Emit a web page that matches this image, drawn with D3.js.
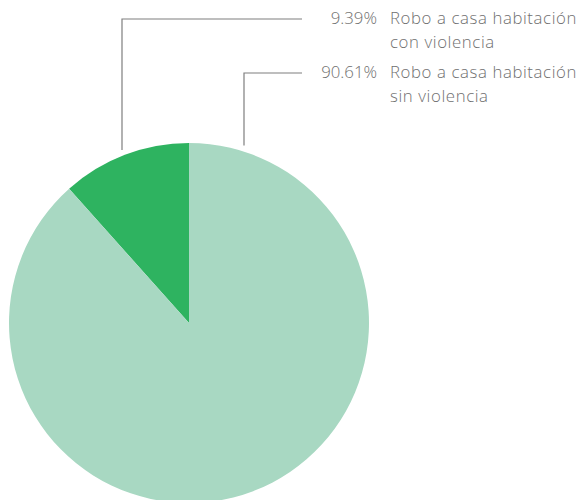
<!DOCTYPE html>
<html>
<head>
	<script src="https://d3js.org/d3.v7.min.js"></script>
	<style>
		body { margin: 0; background: #fff; }
		.lbl {
			font-family: "Open Sans", sans-serif;
			font-weight: 300;
			font-size: 16.8px;
			fill: #707070;
		}
		.lbl.name { letter-spacing: 0.6px; }
		.leader {
			fill: none;
			stroke: #7f7f7f;
			stroke-width: 1.2px;
		}
	</style>
</head>
<body>
<svg class="pie" width="585" height="500"></svg>
<script>
// slice shares as drawn in the picture (the dark one is a bit wider than its label says)
var categories = ["Robo a casa habitación con violencia", "Robo a casa habitación sin violencia"];
var sliceValues = [11.6, 88.4];
var pctLabels = ["9.39%", "90.61%"];
var nameLines = [["Robo a casa habitación", "con violencia"], ["Robo a casa habitación", "sin violencia"]];
var colors = ["#2eb360", "#a8d8c2"];

var svg = d3.select(".pie");
var cx = 189, cy = 323, radius = 180;

// dark slice sits just left of 12 o'clock, the rest runs clockwise from the top
var total = d3.sum(sliceValues);
var a0 = sliceValues[0] / total * 2 * Math.PI;
var pie = d3.pie()
	.sort(null)
	.startAngle(-a0)
	.endAngle(2 * Math.PI - a0)
	.value(function(d) { return d; });

var arc = d3.arc().innerRadius(0).outerRadius(radius);

var g = svg.append("g").attr("transform", "translate(" + cx + "," + cy + ")");
g.selectAll("path")
	.data(pie(sliceValues))
	.enter().append("path")
	.attr("d", arc)
	.style("fill", function(d, i) { return colors[i]; });

// leader lines: start a bit above the rim, go up, then right
var labelY = [19, 73];
var lineX = [122, 244];
var lineEndX = 302;
var leaders = svg.append("g");
lineX.forEach(function(x, i) {
	var dx = x - cx;
	var rimY = cy - Math.sqrt(radius * radius - dx * dx);
	leaders.append("path")
		.attr("class", "leader")
		.attr("d", "M" + x + "," + (rimY - 6) + "V" + labelY[i] + "H" + lineEndX);
});

var labels = svg.append("g");
pctLabels.forEach(function(p, i) {
	labels.append("text")
		.attr("class", "lbl")
		.attr("x", 377)
		.attr("y", labelY[i] + 5)
		.attr("text-anchor", "end")
		.text(p);
	nameLines[i].forEach(function(line, j) {
		labels.append("text")
			.attr("class", "lbl name")
			.attr("x", 390)
			.attr("y", labelY[i] + 5 + j * 24)
			.text(line);
	});
});
</script>
</body>
</html>
